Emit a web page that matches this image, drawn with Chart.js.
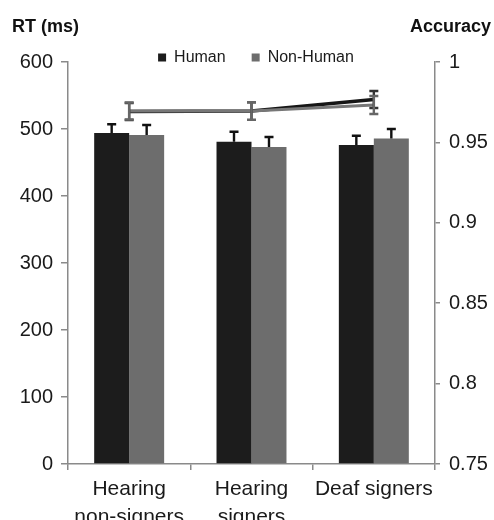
<!DOCTYPE html>
<html>
<head>
<meta charset="utf-8">
<script src="https://cdn.jsdelivr.net/npm/chart.js@4.4.0/dist/chart.umd.min.js"></script>
<style>
  html, body { margin: 0; padding: 0; background: #fff; }
</style>
</head>
<body>
<canvas id="chart" width="494" height="520"></canvas>
<script>
// ── Data ─────────────────────────────────────────────────────────────────────
const groups = [['Hearing', 'non-signers'], ['Hearing', 'signers'], 'Deaf signers'];
const seriesNames = ['Human', 'Non-Human'];

const rtHuman = [494, 481, 476];
const rtNonHuman = [491, 473, 486];
const rtHumanErr = [13, 15, 14];
const rtNonHumanErr = [15, 15, 14];

const accHuman = [0.9692, 0.9695, 0.9767];
const accNonHuman = [0.9695, 0.9695, 0.9733];
const accHumanErr = [0.0053, 0.0055, 0.0053];
const accNonHumanErr = [0.0053, 0.0055, 0.0056];

const leftTitle = 'RT (ms)';
const rightTitle = 'Accuracy';

const FONT = "'Liberation Sans', Arial, sans-serif";
const AXIS_GREY = '#8a8a8a';
const INK = '#1a1a1a';

Chart.defaults.font.family = FONT;
Chart.defaults.color = INK;

// ── Error bars drawn through the chart scales ────────────────────────────────
const errorBars = {
  id: 'errorBars',
  afterDatasetsDraw(chart) {
    const { ctx } = chart;
    chart.data.datasets.forEach((ds, i) => {
      if (!ds.err) return;
      const meta = chart.getDatasetMeta(i);
      const scale = chart.scales[ds.yAxisID];
      ctx.save();
      ctx.strokeStyle = ds.errColor;
      ctx.lineWidth = 2.4;
      meta.data.forEach((el, j) => {
        const v = ds.data[j], e = ds.err[j];
        const x = el.x;
        const top = scale.getPixelForValue(v + e);
        const bot = ds.type === 'bar' ? scale.getPixelForValue(v) : scale.getPixelForValue(v - e);
        const half = 4.5;
        ctx.beginPath();
        ctx.moveTo(x, top); ctx.lineTo(x, bot);
        ctx.moveTo(x - half, top); ctx.lineTo(x + half, top);
        if (ds.type !== 'bar') { ctx.moveTo(x - half, bot); ctx.lineTo(x + half, bot); }
        ctx.stroke();
      });
      ctx.restore();
    });
  }
};

// ── Horizontal axis titles above each y axis ─────────────────────────────────
const axisTitles = {
  id: 'axisTitles',
  afterDraw(chart) {
    const { ctx } = chart;
    ctx.save();
    ctx.font = `bold 18px ${FONT}`;
    ctx.fillStyle = '#111';
    ctx.textBaseline = 'middle';
    ctx.textAlign = 'left';
    ctx.fillText(leftTitle, 12, 27);
    ctx.textAlign = 'right';
    ctx.fillText(rightTitle, 491, 27);
    ctx.restore();
  }
};

new Chart(document.getElementById('chart'), {
  type: 'bar',
  data: {
    labels: groups,
    datasets: [
      {
        type: 'bar', label: seriesNames[0], data: rtHuman, err: rtHumanErr, errColor: '#111',
        yAxisID: 'y', backgroundColor: '#1c1c1c', borderWidth: 0,
        categoryPercentage: 0.572, barPercentage: 1, order: 3,
      },
      {
        type: 'bar', label: seriesNames[1], data: rtNonHuman, err: rtNonHumanErr, errColor: '#111',
        yAxisID: 'y', backgroundColor: '#6d6d6d', borderWidth: 0,
        categoryPercentage: 0.572, barPercentage: 1, order: 3,
      },
      {
        type: 'line', label: seriesNames[0] + ' acc', data: accHuman, err: accHumanErr, errColor: '#333',
        yAxisID: 'y1', borderColor: '#161616', borderWidth: 3.5, pointRadius: 0, tension: 0, order: 1,
      },
      {
        type: 'line', label: seriesNames[1] + ' acc', data: accNonHuman, err: accNonHumanErr, errColor: '#666',
        yAxisID: 'y1', borderColor: '#777', borderWidth: 3, pointRadius: 0, tension: 0, order: 0,
      },
    ],
  },
  options: {
    responsive: false,
    animation: false,
    layout: { padding: { top: 23.5, left: 18, right: 0, bottom: 0 } },
    plugins: {
      tooltip: { enabled: false },
      legend: {
        position: 'top',
        maxHeight: 38.5,
        labels: {
          font: { size: 16 },
          color: INK,
          boxWidth: 8,
          boxHeight: 8,
          padding: 26,
          filter: (item, data) => data.datasets[item.datasetIndex].type === 'bar',
        },
      },
    },
    scales: {
      x: {
        offset: true,
        grid: { offset: true, drawOnChartArea: false, tickLength: 6, color: AXIS_GREY, lineWidth: 1.5 },
        border: { color: AXIS_GREY, width: 1.5 },
        ticks: { font: { size: 21, lineHeight: 1.35 }, color: INK, padding: 5, maxRotation: 0, autoSkip: false },
        afterFit: s => { s.height = 56; },
      },
      y: {
        position: 'left',
        min: 0, max: 600,
        grid: { drawOnChartArea: false, tickLength: 7, color: AXIS_GREY, lineWidth: 1.5 },
        border: { color: AXIS_GREY, width: 1.5 },
        ticks: { stepSize: 100, font: { size: 20 }, color: INK, padding: 8 },
        afterFit: s => { s.width = 50; },
      },
      y1: {
        position: 'right',
        min: 0.75, max: 1,
        grid: { drawOnChartArea: false, tickLength: 5, color: AXIS_GREY, lineWidth: 1.5 },
        border: { color: AXIS_GREY, width: 1.5 },
        ticks: { stepSize: 0.05, font: { size: 20 }, color: INK, padding: 9,
                 callback: v => String(+v.toFixed(2)) },
        afterFit: s => { s.width = 59; },
      },
    },
  },
  plugins: [errorBars, axisTitles],
});
</script>
</body>
</html>
